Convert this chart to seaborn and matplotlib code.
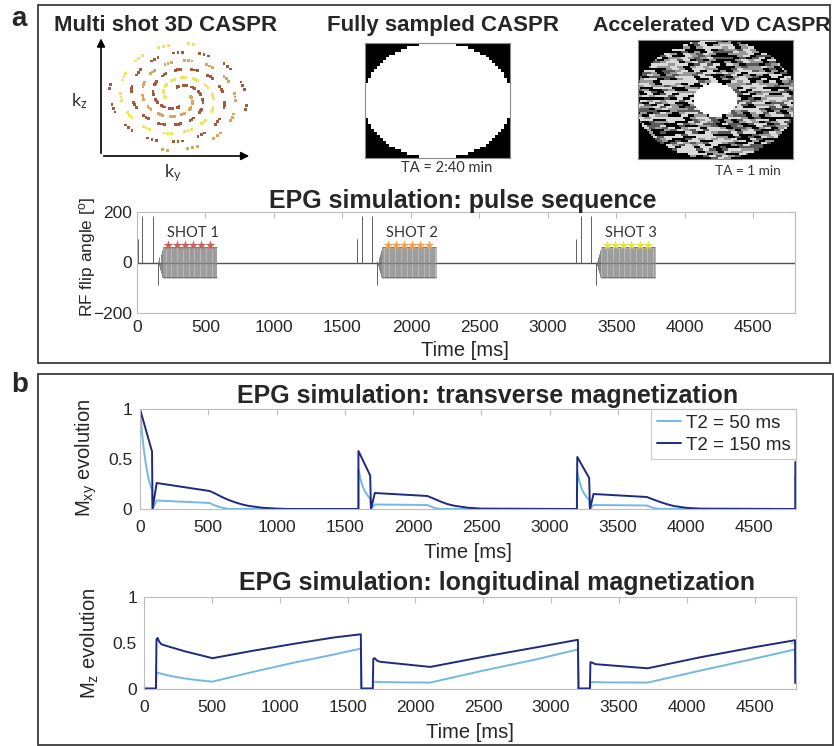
import numpy as np
import pandas as pd
import matplotlib
matplotlib.use("Agg")
import matplotlib.pyplot as plt
import seaborn as sns
from matplotlib.patches import Rectangle

# ------------------------------------------------------------------ data
time_ticks = [0, 500, 1000, 1500, 2000, 2500, 3000, 3500, 4000, 4500]
time_max = 4805

# pulse sequence (per shot, offsets in ms from shot start)
shot_starts = [0, 1600, 3200]
shot_labels = ["SHOT 1", "SHOT 2", "SHOT 3"]
shot_colors = ["#C9615E", "#F0A24E", "#E4E442"]
prep_offsets = [7, 40, 118]
prep_angles = [95, 185, 185]
inv_offset = 152
inv_angle = -90
ramp_offsets = [156, 160, 164, 168, 172, 176, 180, 184]
ramp_angles = [7, -14, 21, -28, 35, -42, 49, -56]
train_first, train_last, train_step = 188, 582, 4
train_angle = 60
star_offsets = [230, 290, 350, 410, 470, 530]
star_angle = 68
label_offset = 410
label_angle = 115

# transverse magnetization
mxy_t150 = [0, 88, 92, 122, 510, 550, 600, 650, 700, 750, 800, 900, 1000, 1100,
            1600, 1600, 1686, 1692, 1720, 2105, 2150, 2200, 2250, 2300, 2400, 2500,
            3200, 3203, 3290, 3296, 3322, 3712, 3760, 3810, 3860, 3910, 4000, 4100,
            4800, 4800]
mxy_v150 = [1.0, 0.575, 0.0, 0.26, 0.18, 0.155, 0.12, 0.09, 0.065, 0.045, 0.03, 0.012, 0.004, 0.0,
            0.0, 0.58, 0.335, 0.0, 0.16, 0.13, 0.105, 0.075, 0.05, 0.033, 0.013, 0.004,
            0.0, 0.52, 0.31, 0.0, 0.15, 0.12, 0.095, 0.07, 0.048, 0.03, 0.012, 0.004,
            0.0, 0.47]
mxy_t50 = [0, 15, 30, 45, 60, 75, 88, 92, 122, 510, 540, 580, 620, 660,
           1600, 1600, 1615, 1630, 1650, 1670, 1686, 1692, 1720, 2105, 2130, 2160, 2200,
           3200, 3203, 3218, 3233, 3250, 3270, 3290, 3296, 3322, 3712, 3740, 3770, 3810,
           4800, 4800]
mxy_v50 = [1.0, 0.76, 0.57, 0.43, 0.32, 0.24, 0.19, 0.0, 0.085, 0.06, 0.04, 0.02, 0.008, 0.0,
           0.0, 0.40, 0.30, 0.23, 0.17, 0.13, 0.10, 0.0, 0.045, 0.04, 0.025, 0.01, 0.0,
           0.0, 0.37, 0.28, 0.21, 0.16, 0.12, 0.095, 0.0, 0.04, 0.035, 0.02, 0.008, 0.0,
           0.0, 0.33]

# longitudinal magnetization
mz_t150 = [0, 88, 92, 100, 110, 125, 140, 300, 505, 800, 1100, 1400, 1598, 1602,
           1686, 1690, 1700, 1720, 1745, 2110, 2500, 2900, 3198, 3202,
           3286, 3290, 3300, 3325, 3712, 4100, 4500, 4798, 4800]
mz_v150 = [0.005, 0.005, 0.54, 0.555, 0.52, 0.49, 0.48, 0.41, 0.335, 0.415, 0.49, 0.56, 0.595, 0.005,
           0.005, 0.33, 0.335, 0.305, 0.295, 0.24, 0.35, 0.455, 0.535, 0.005,
           0.005, 0.29, 0.29, 0.27, 0.225, 0.345, 0.455, 0.53, 0.065]
mz_t50 = [0, 88, 92, 130, 200, 300, 400, 505, 800, 1100, 1400, 1598, 1602,
          1686, 1690, 1750, 1900, 2110, 2500, 2900, 3198, 3202,
          3286, 3290, 3400, 3712, 4100, 4500, 4798, 4800]
mz_v50 = [0.005, 0.005, 0.18, 0.165, 0.14, 0.115, 0.095, 0.08, 0.185, 0.285, 0.375, 0.44, 0.005,
          0.005, 0.08, 0.075, 0.072, 0.07, 0.2, 0.325, 0.43, 0.005,
          0.005, 0.075, 0.072, 0.07, 0.2, 0.33, 0.43, 0.065]

series_names = ["T2 = 50 ms", "T2 = 150 ms"]
series_colors = ["#74B8E4", "#1E2A80"]

# k-space schematics
spiral_arm_phase_deg = [95, 185, 275, 5]
spiral_arm_shot = [0, 2, 0, 1]
spiral_palette = {"SHOT 1": "#A65A3C", "SHOT 2": "#DDA45C", "SHOT 3": "#EEE65E"}
spiral_turns = 1.3
full_rows, full_cols = 40, 48
vd_rows, vd_cols, vd_run = 56, 72, 3
vd_center_radius = 0.28
vd_levels = [0.0, 0.35, 0.6, 0.85]
vd_level_cut = [0.28, 0.48, 0.72]

# ------------------------------------------------------------------ style
sns.set_style("white")
plt.rcParams["font.family"] = ["Liberation Sans", "DejaVu Sans"]
plt.rcParams["mathtext.default"] = "regular"

W, H = 834, 746
fig = plt.figure(figsize=(W / 100, H / 100), dpi=100)


def px_ax(l, t, r, b):
    return fig.add_axes([l / W, 1 - b / H, (r - l) / W, (b - t) / H])


def ftext(x, y, s, **kw):
    ha = kw.pop("ha", "center")
    va = kw.pop("va", "center")
    fig.text(x / W, 1 - y / H, s, ha=ha, va=va, **kw)


AX_GRAY = "#BDBDBD"
TXT = "#262626"
LATO = ["Lato", "DejaVu Sans"]

# panel frames
fig.patches.append(Rectangle((38 / W, 1 - 363 / H), (830 - 38) / W, (363 - 5) / H,
                             transform=fig.transFigure, fill=False, ec="#3C3C3C", lw=1.3))
fig.patches.append(Rectangle((38 / W, 1 - 745 / H), (833 - 38) / W, (745 - 374) / H,
                             transform=fig.transFigure, fill=False, ec="#3C3C3C", lw=1.3))
ftext(19, 19, "a", fontsize=20, fontweight="bold")
ftext(20, 385, "b", fontsize=20, fontweight="bold")

# ------------------------------------------------------------------ spiral
ax_sp = px_ax(101, 38, 252, 156)
ax_sp.set_xlim(0, 1)
ax_sp.set_ylim(0, 1)
ax_sp.axis("off")
rows = []
theta_max = spiral_turns * 2 * np.pi
for phase, shot in zip(spiral_arm_phase_deg, spiral_arm_shot):
    th = np.linspace(0, theta_max, 110)
    r = 0.18 + 0.82 * th / theta_max
    ang = np.deg2rad(phase) - th
    for k in range(len(th)):
        if (k // 3) % 2 == 1:
            continue
        rows.append({"x": 0.51 + 0.46 * r[k] * np.cos(ang[k]),
                     "y": 0.50 + 0.46 * r[k] * np.sin(ang[k]),
                     "shot": shot_labels[shot]})
sp_df = pd.DataFrame(rows)
sns.scatterplot(data=sp_df, x="x", y="y", hue="shot", ax=ax_sp, marker="s", s=4,
                linewidth=0, legend=False, palette=spiral_palette)
ax_sp.annotate("", xy=(0, 1.02), xytext=(0, 0), annotation_clip=False,
               arrowprops=dict(arrowstyle="-|>", color="black", lw=1.2, mutation_scale=12))
ax_sp.annotate("", xy=(1.0, 0), xytext=(0, 0), annotation_clip=False,
               arrowprops=dict(arrowstyle="-|>", color="black", lw=1.2, mutation_scale=12))
ftext(79, 101, "k$_z$", fontsize=13, family=LATO, color="#333333")
ftext(173, 173, "k$_y$", fontsize=13, family=LATO, color="#333333")
ftext(166, 31, "Multi shot 3D CASPR", fontsize=16, fontweight="bold", va="baseline")

# ------------------------------------------------------------------ sampling masks
jj, ii = np.meshgrid(np.arange(full_cols), np.arange(full_rows))
u = (jj + 0.5) / full_cols * 2 - 1
v = (ii + 0.5) / full_rows * 2 - 1
full_mask = ((u / 1.03) ** 2 + (v / 1.01) ** 2 <= 1).astype(float)

jj, ii = np.meshgrid(np.arange(vd_cols), np.arange(vd_rows))
u = (jj + 0.5) / vd_cols * 2 - 1
v = (ii + 0.5) / vd_rows * 2 - 1
ell = (u / 1.04) ** 2 + (v / 1.0) ** 2 <= 1
disk = u ** 2 + v ** 2 <= vd_center_radius ** 2
seg = (jj + (ii * 2) % vd_run) // vd_run
hsh = np.mod(np.sin(ii * 12.9898 + seg * 78.233) * 43758.5453, 1.0)  # illustrative texture
texture = np.select([hsh < vd_level_cut[0], hsh < vd_level_cut[1], hsh < vd_level_cut[2]],
                    vd_levels[:3], vd_levels[3])
vd_mask = np.where(disk, 1.0, np.where(ell, texture, 0.0))

for (l, t, r, b), mask in [((365, 43, 510, 158), full_mask), ((638, 40, 793, 159), vd_mask)]:
    ax_im = px_ax(l, t, r, b)
    sns.heatmap(mask, ax=ax_im, cmap="gray", vmin=0, vmax=1, cbar=False,
                xticklabels=False, yticklabels=False)
    for s in ax_im.spines.values():
        s.set_visible(True)
        s.set_color("#8C8C8C")
        s.set_linewidth(0.8)
ftext(443, 31, "Fully sampled CASPR", fontsize=16, fontweight="bold", va="baseline")
ftext(712, 31, "Accelerated VD CASPR", fontsize=15.4, fontweight="bold", va="baseline")
ftext(447, 168, "TA = 2:40 min", fontsize=10.5, family=LATO, color="#333333")
ftext(748, 171, "TA = 1 min", fontsize=9.8, family=LATO, color="#333333")


def style_axes(ax, xpad, ypad):
    ax.set_xlim(0, time_max)
    ax.set_xticks(time_ticks)
    ax.tick_params(direction="in", length=4, width=0.8, color=AX_GRAY, top=True, right=True,
                   labelsize=12.5, labelcolor=TXT)
    ax.tick_params(axis="x", pad=xpad)
    ax.tick_params(axis="y", pad=ypad)
    for s in ax.spines.values():
        s.set_visible(True)
        s.set_color(AX_GRAY)
        s.set_linewidth(0.8)
    ax.set_xlabel("")
    ax.set_ylabel("")


# ------------------------------------------------------------------ pulse sequence
ax_p = px_ax(137, 212, 795, 313)
ax_p.axhline(0, color="#505050", lw=1.0, zorder=1)
for k, t0 in enumerate(shot_starts):
    ax_p.vlines([t0 + o for o in prep_offsets], 0, prep_angles, color="#606060", lw=0.7)
    ax_p.vlines([t0 + inv_offset], 0, [inv_angle], color="#606060", lw=0.7)
    ax_p.vlines([t0 + o for o in ramp_offsets], 0, ramp_angles, color="#707070", lw=0.6)
    tr = np.arange(t0 + train_first, t0 + train_last + 1, train_step)
    sgn = np.where(np.arange(len(tr)) % 2 == 0, 1, -1)
    ax_p.vlines(tr, 0, train_angle * sgn, color="#8E8E8E", lw=0.45)
    ax_p.vlines(tr, 0, -train_angle * sgn, color="#8E8E8E", lw=0.45)
    ax_p.hlines([train_angle, -train_angle * 0.93], t0 + train_first, t0 + train_last,
                color="#707070", lw=0.6)
    st = pd.DataFrame({"t": [t0 + o for o in star_offsets], "a": [star_angle] * len(star_offsets)})
    sns.scatterplot(data=st, x="t", y="a", ax=ax_p, marker="*", s=55, color=shot_colors[k],
                    linewidth=0, legend=False, zorder=5)
    ax_p.text(t0 + label_offset, label_angle, shot_labels[k], ha="center", va="center",
              fontsize=10.5, family=LATO, color="#333333")
ax_p.set_ylim(-200, 200)
ax_p.set_yticks([-200, 0, 200])
style_axes(ax_p, 5, 3.5)
ftext(463, 208, "EPG simulation: pulse sequence", fontsize=18, fontweight="bold", va="baseline")
ftext(87, 257, "RF flip angle [$^{o}$]", fontsize=12.5, rotation=90, color=TXT)
ftext(465, 350, "Time [ms]", fontsize=14.5, color=TXT)

# ------------------------------------------------------------------ transverse
mxy_df = pd.concat([
    pd.DataFrame({"t": mxy_t50, "m": mxy_v50, "series": series_names[0]}),
    pd.DataFrame({"t": mxy_t150, "m": mxy_v150, "series": series_names[1]}),
])
ax_xy = px_ax(140, 409, 796, 509)
sns.lineplot(data=mxy_df, x="t", y="m", hue="series", palette=dict(zip(series_names, series_colors)),
             estimator=None, sort=False, lw=1.4, ax=ax_xy)
ax_xy.set_ylim(0, 1)
ax_xy.set_yticks([0, 0.5, 1])
ax_xy.set_yticklabels(["0", "0.5", "1"])
style_axes(ax_xy, 8, 5.5)
leg = ax_xy.legend(loc="upper right", bbox_to_anchor=(1.0, 1.0), borderaxespad=0, fontsize=13.5,
                   frameon=True, fancybox=False, edgecolor=AX_GRAY, handlelength=1.3,
                   handletextpad=0.25, borderpad=0.3, labelspacing=0.25)
leg.get_frame().set_linewidth(0.8)
for txt in leg.get_texts():
    txt.set_color(TXT)
ftext(488, 403, "EPG simulation: transverse magnetization", fontsize=18, fontweight="bold", va="baseline")
ftext(86, 458, "M$_{xy}$ evolution", fontsize=14.5, rotation=90, color=TXT)
ftext(468, 553, "Time [ms]", fontsize=14.5, color=TXT)

# ------------------------------------------------------------------ longitudinal
mz_df = pd.concat([
    pd.DataFrame({"t": mz_t50, "m": mz_v50, "series": series_names[0]}),
    pd.DataFrame({"t": mz_t150, "m": mz_v150, "series": series_names[1]}),
])
ax_z = px_ax(144, 597, 796, 689)
sns.lineplot(data=mz_df, x="t", y="m", hue="series", palette=dict(zip(series_names, series_colors)),
             estimator=None, sort=False, lw=1.4, ax=ax_z, legend=False)
ax_z.set_ylim(0, 1)
ax_z.set_yticks([0, 0.5, 1])
ax_z.set_yticklabels(["0", "0.5", "1"])
style_axes(ax_z, 8, 5)
ftext(497, 590, "EPG simulation: longitudinal magnetization", fontsize=18, fontweight="bold", va="baseline")
ftext(90, 643, "M$_z$ evolution", fontsize=14.5, rotation=90, color=TXT)
ftext(470, 732, "Time [ms]", fontsize=14.5, color=TXT)

fig.savefig("out.png", dpi=100)
